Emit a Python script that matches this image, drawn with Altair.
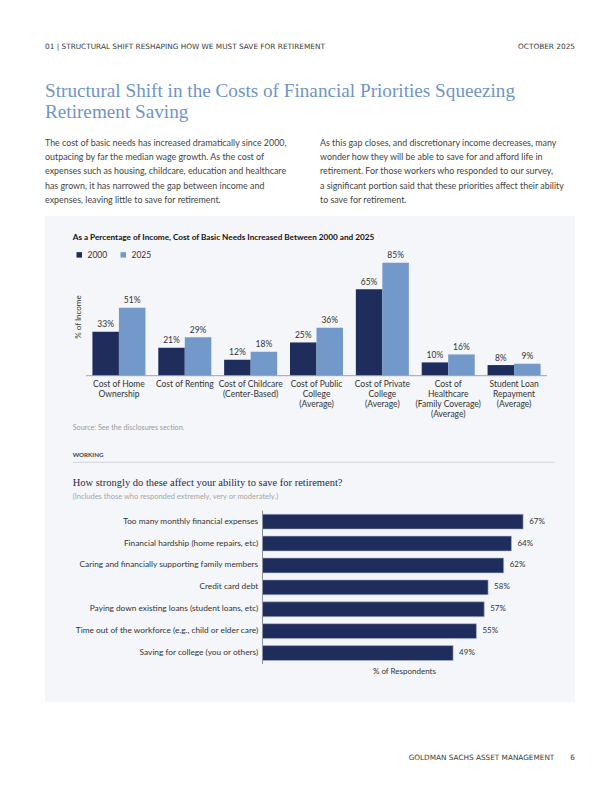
import altair as alt
import pandas as pd

# ---------------- data ----------------
categories = [
    "Cost of Home Ownership", "Cost of Renting", "Cost of Childcare (Center-Based)",
    "Cost of Public College (Average)", "Cost of Private College (Average)",
    "Cost of Healthcare (Family Coverage) (Average)", "Student Loan Repayment (Average)",
]
category_labels = [
    "Cost of Home\nOwnership", "Cost of Renting", "Cost of Childcare\n(Center-Based)",
    "Cost of Public\nCollege\n(Average)", "Cost of Private\nCollege\n(Average)",
    "Cost of\nHealthcare\n(Family Coverage)\n(Average)", "Student Loan\nRepayment\n(Average)",
]
years = ["2000", "2025"]
values_2000 = [33, 21, 12, 25, 65, 10, 8]
values_2025 = [51, 29, 18, 36, 85, 16, 9]

survey_items = [
    "Too many monthly financial expenses",
    "Financial hardship (home repairs, etc)",
    "Caring and financially supporting family members",
    "Credit card debt",
    "Paying down existing loans (student loans, etc)",
    "Time out of the workforce (e.g., child or elder care)",
    "Saving for college (you or others)",
]
survey_values = [67, 64, 62, 58, 57, 55, 49]

# ---------------- styles ----------------
NAVY = "#1f2d5c"
LIGHT = "#7299c9"
PANEL = "#f5f6f9"
TXT = "#333333"
BODY_FONT = "Lato"
CAPS_FONT = "DejaVu Sans"
COND_FONT = "Liberation Serif"

W, H = 596, 776
OFF = 8  # page margin: page coords -> view coords


def P(v):
    return v - OFF


one = pd.DataFrame({"k": [0]})


def txt(text, x, y, size=8, color=TXT, font=BODY_FONT, weight="normal",
        align="left", baseline="middle", angle=0, lineHeight=None):
    kw = dict(text=text, fontSize=size, color=color, font=font, fontWeight=weight,
              align=align, baseline=baseline)
    if angle:
        kw["angle"] = angle
    if lineHeight:
        kw["lineHeight"] = lineHeight
    return alt.Chart(one).mark_text(**kw).encode(x=alt.value(P(x)), y=alt.value(P(y)))


def rect(x, x2, y, y2, color):
    return alt.Chart(one).mark_rect(color=color).encode(
        x=alt.value(P(x)), x2=alt.value(P(x2)), y=alt.value(P(y)), y2=alt.value(P(y2)))


def rule_h(x, x2, y, color, w=1):
    return alt.Chart(one).mark_rule(color=color, strokeWidth=w).encode(
        x=alt.value(P(x)), x2=alt.value(P(x2)), y=alt.value(P(y)))


def rule_v(x, y, y2, color, w=1):
    return alt.Chart(one).mark_rule(color=color, strokeWidth=w).encode(
        x=alt.value(P(x)), y=alt.value(P(y)), y2=alt.value(P(y2)))


# ---------------- page texts ----------------
page = [
    rect(45, 575, 216, 702, PANEL),
    txt("01 | STRUCTURAL SHIFT RESHAPING HOW WE MUST SAVE FOR RETIREMENT", 45, 47, size=7.35,
        color="#3a3a3a", font=CAPS_FONT),
    txt("OCTOBER 2025", 575, 47, size=7.35, color="#3a3a3a", align="right", font=CAPS_FONT),
    txt("Structural Shift in the Costs of Financial Priorities Squeezing", 45, 91, size=19.2,
        color="#7094c4", font=COND_FONT),
    txt("Retirement Saving", 45, 112, size=19.2, color="#7094c4", font=COND_FONT),
    txt(["The cost of basic needs has increased dramatically since 2000,",
         "outpacing by far the median wage growth. As the cost of",
         "expenses such as housing, childcare, education and healthcare",
         "has grown, it has narrowed the gap between income and",
         "expenses, leaving little to save for retirement."],
        45, 146, size=8.9, color="#444444", baseline="alphabetic", lineHeight=14.2),
    txt(["As this gap closes, and discretionary income decreases, many",
         "wonder how they will be able to save for and afford life in",
         "retirement. For those workers who responded to our survey,",
         "a significant portion said that these priorities affect their ability",
         "to save for retirement."],
        320, 146, size=8.9, color="#444444", baseline="alphabetic", lineHeight=14.2),
    txt("As a Percentage of Income, Cost of Basic Needs Increased Between 2000 and 2025",
        72.7, 238.3, size=8.2, color="#111111", weight="bold"),
    txt("% of Income", 79, 317, size=8, color=TXT, align="center", angle=270),
    txt("Source: See the disclosures section.", 72.7, 428.3, size=7.2, color="#9a9a9a"),
    txt("WORKING", 72.7, 454.7, size=6.2, color="#444444", weight="bold"),
    rule_h(72.7, 554.5, 462.3, "#d3d6dc"),
    txt("How strongly do these affect your ability to save for retirement?", 72.7, 482.7,
        size=10.5, color="#1f2a4a", font=COND_FONT),
    txt("(Includes those who responded extremely, very or moderately.)", 72.7, 497.3,
        size=7.5, color="#a5a5a5"),
    txt("% of Respondents", 404.4, 672, size=8, color=TXT, align="center"),
    txt("GOLDMAN SACHS ASSET MANAGEMENT", 554.3, 758.3, size=7.3, color="#3a3a3a", align="right",
        font=CAPS_FONT),
    txt("6", 575, 758.3, size=7.3, color="#3a3a3a", align="right", font=CAPS_FONT),
]

# ---------------- chart 1: grouped bars ----------------
rows = []
for c, a, b in zip(categories, values_2000, values_2025):
    rows.append({"category": c, "year": years[0], "value": a, "label": f"{a}%"})
    rows.append({"category": c, "year": years[1], "value": b, "label": f"{b}%"})
df1 = pd.DataFrame(rows)
df1_cat = pd.DataFrame({"category": categories, "catlabel": category_labels})

x1 = alt.X("category:N", sort=categories, axis=None,
           scale=alt.Scale(domain=categories, range=[P(86), P(547)],
                           paddingInner=0.195, paddingOuter=0.0975))
y1 = alt.Y("value:Q", axis=None,
           scale=alt.Scale(domain=[0, 100], range=[P(375.7), P(375.7 - 133)]))
xo1 = alt.XOffset("year:N", sort=years, scale=alt.Scale(domain=years, paddingInner=0))

bars1 = alt.Chart(df1).mark_bar().encode(
    x=x1, xOffset=xo1, y=y1,
    color=alt.Color("year:N", sort=years,
                    scale=alt.Scale(domain=years, range=[NAVY, LIGHT]),
                    legend=alt.Legend(orient="none", legendX=P(75), legendY=P(250.5),
                                      direction="horizontal", title=None,
                                      symbolType="square", symbolSize=30,
                                      symbolStrokeWidth=0, labelFontSize=8.5,
                                      labelFont=BODY_FONT, labelColor=TXT,
                                      labelOffset=4, columnPadding=11, padding=0)),
)
vlabels1 = alt.Chart(df1).mark_text(baseline="alphabetic", dy=-4.5, fontSize=8.5,
                                    font=BODY_FONT, color=TXT).encode(
    x=x1, xOffset=xo1, y=y1, text="label:N")
catlabels1 = alt.Chart(df1_cat).mark_text(baseline="top", fontSize=8.5, font=BODY_FONT,
                                          color=TXT, lineBreak="\n", lineHeight=10).encode(
    x=x1, y=alt.value(P(380)), text="catlabel:N")
base1 = rule_h(86, 547, 375.7, "#9ea3ad", 1)
chart1 = alt.layer(bars1, vlabels1, catlabels1, base1)

# ---------------- chart 2: horizontal bars ----------------
df2 = pd.DataFrame({"item": survey_items, "value": survey_values,
                    "label": [f"{v}%" for v in survey_values]})
y2 = alt.Y("item:N", sort=survey_items, axis=None,
           scale=alt.Scale(domain=survey_items, range=[P(510.7), P(664)],
                           paddingInner=0.32, paddingOuter=0.16))
x2 = alt.X("value:Q", axis=None,
           scale=alt.Scale(domain=[0, 100], range=[P(262.5), P(262.5 + 389)]))
bars2 = alt.Chart(df2).mark_bar(color=NAVY, stroke="#aebad4", strokeWidth=0.6).encode(x=x2, y=y2)
vlabels2 = alt.Chart(df2).mark_text(align="left", dx=6, fontSize=8, font=BODY_FONT,
                                    color=TXT).encode(x=x2, y=y2, text="label:N")
catlabels2 = alt.Chart(df2).mark_text(align="right", fontSize=8.3, font=BODY_FONT,
                                      color=TXT).encode(x=alt.value(P(258.2)), y=y2, text="item:N")
axis2 = rule_v(262.5, 510.7, 664, "#8a8f99", 1)
chart2 = alt.layer(bars2, vlabels2, catlabels2, axis2)

chart = alt.layer(*page, chart1, chart2).resolve_scale(
    x="independent", y="independent"
).properties(
    width=W, height=H, padding=0,
    autosize=alt.AutoSizeParams(type="none"),
    background="white",
).configure_view(stroke=None)

chart.save("out.html", embed_options={"renderer": "svg", "actions": False})
